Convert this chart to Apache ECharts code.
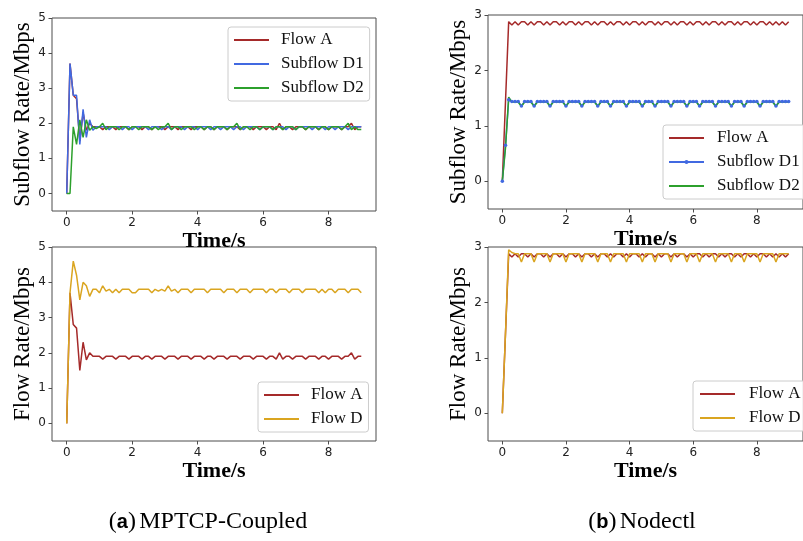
<!DOCTYPE html>
<html>
<head>
<meta charset="utf-8">
<script src="https://cdn.jsdelivr.net/npm/echarts@6/dist/echarts.min.js"></script>
<style>
html,body{margin:0;padding:0;background:#fff;}
#c{width:803px;height:541px;}
</style>
</head>
<body>
<div id="c"></div>
<script>
var times = [0,0.1,0.2,0.3,0.4,0.5,0.6,0.7,0.8,0.9,
1,1.1,1.2,1.3,1.4,1.5,1.6,1.7,1.8,1.9,
2,2.1,2.2,2.3,2.4,2.5,2.6,2.7,2.8,2.9,
3,3.1,3.2,3.3,3.4,3.5,3.6,3.7,3.8,3.9,
4,4.1,4.2,4.3,4.4,4.5,4.6,4.7,4.8,4.9,
5,5.1,5.2,5.3,5.4,5.5,5.6,5.7,5.8,5.9,
6,6.1,6.2,6.3,6.4,6.5,6.6,6.7,6.8,6.9,
7,7.1,7.2,7.3,7.4,7.5,7.6,7.7,7.8,7.9,
8,8.1,8.2,8.3,8.4,8.5,8.6,8.7,8.8,8.9,
9];

// (a) MPTCP-Coupled
var flowA_coupled = [0,3.7,2.8,2.7,1.5,2.3,1.8,2.0,1.9,1.9,
1.9,1.82,1.9,1.9,1.9,1.82,1.9,1.9,1.9,1.82,
1.9,1.9,1.9,1.82,1.9,1.9,1.82,1.9,1.9,1.9,
1.82,1.9,1.9,1.9,1.82,1.9,1.9,1.9,1.82,1.9,
1.9,1.9,1.82,1.9,1.9,1.82,1.9,1.9,1.9,1.82,
1.9,1.9,1.9,1.82,1.9,1.9,1.9,1.82,1.9,1.9,
1.9,1.82,1.9,1.9,1.82,2.0,1.82,1.9,1.9,1.82,
1.9,1.9,1.9,1.82,1.9,1.9,1.9,1.82,1.9,1.9,
1.82,1.9,1.9,1.9,1.82,1.9,1.9,2.0,1.82,1.9,
1.9];
var subflowD1_coupled = [0,3.7,2.8,2.8,1.4,2.4,1.6,2.1,1.8,1.9,
1.9,1.9,1.9,1.82,1.9,1.9,1.9,1.82,1.9,1.9,
1.82,1.9,1.9,1.9,1.9,1.82,1.9,1.9,1.9,1.82,
1.9,1.9,1.82,1.9,1.9,1.9,1.82,1.9,1.9,1.9,
1.82,1.9,1.9,1.9,1.82,1.9,1.9,1.82,1.9,1.9,
1.9,1.82,1.9,1.9,1.82,1.9,1.9,1.9,1.9,1.82,
1.9,1.9,1.9,1.82,1.9,1.9,1.9,1.82,1.9,1.9,
1.82,1.9,1.9,1.9,1.9,1.82,1.9,1.9,1.9,1.82,
1.9,1.9,1.82,1.9,1.9,1.9,1.82,1.9,1.9,1.9,
1.9];
var subflowD2_coupled = [0,0,1.9,1.4,2.1,1.6,2.1,1.8,1.9,1.85,
1.9,2.0,1.82,1.9,1.9,1.9,1.82,1.9,1.9,1.82,
1.9,1.9,1.82,1.9,1.9,1.9,1.82,1.9,1.82,1.9,
1.9,2.0,1.82,1.9,1.9,1.82,1.9,1.9,1.9,1.82,
1.9,1.9,1.82,1.9,1.9,1.82,1.9,1.9,1.9,1.82,
1.9,1.9,2.0,1.82,1.9,1.9,1.82,1.9,1.9,1.82,
1.9,1.9,1.9,1.82,1.9,1.9,1.82,1.9,1.9,1.9,
1.82,1.9,1.9,1.82,1.9,1.9,1.9,1.82,1.9,1.9,
1.82,1.9,1.9,1.9,1.82,1.9,2.0,1.82,1.9,1.82,
1.82];
var flowD_coupled = [0,3.7,4.6,4.2,3.5,4.0,3.9,3.6,3.8,3.8,
3.7,3.9,3.75,3.8,3.7,3.8,3.7,3.8,3.8,3.8,
3.7,3.7,3.8,3.8,3.8,3.8,3.7,3.8,3.75,3.8,
3.75,3.9,3.75,3.8,3.7,3.8,3.8,3.8,3.7,3.8,
3.8,3.8,3.8,3.7,3.8,3.8,3.8,3.8,3.7,3.8,
3.8,3.8,3.7,3.8,3.8,3.8,3.7,3.8,3.8,3.8,
3.8,3.7,3.8,3.8,3.7,3.8,3.8,3.8,3.7,3.8,
3.8,3.8,3.7,3.8,3.8,3.8,3.8,3.7,3.8,3.7,
3.8,3.8,3.7,3.8,3.8,3.8,3.7,3.8,3.8,3.8,
3.7];

// (b) Nodectl
var flowA_nodectl = [0,1.44,
2.88,2.82,2.88,2.82,2.88, 2.88,2.82,2.88,2.82,2.88,
2.88,2.82,2.88,2.82,2.88, 2.88,2.82,2.88,2.82,2.88,
2.88,2.82,2.88,2.82,2.88, 2.88,2.82,2.88,2.82,2.88,
2.88,2.82,2.88,2.82,2.88, 2.88,2.82,2.88,2.82,2.88,
2.88,2.82,2.88,2.82,2.88, 2.88,2.82,2.88,2.82,2.88,
2.88,2.82,2.88,2.82,2.88, 2.88,2.82,2.88,2.82,2.88,
2.88,2.82,2.88,2.82,2.88, 2.88,2.82,2.88,2.82,2.88,
2.88,2.82,2.88,2.82,2.88, 2.88,2.82,2.88,2.82,2.88,
2.88,2.82,2.88,2.82,2.88,
2.82,2.88,2.82,2.88];
var subflowD1_nodectl = [0,0.65,1.47,1.44,1.44,1.44,1.36,1.44,1.44,1.44,
1.36,1.44,1.44,1.44,1.44,1.36,1.44,1.44,1.44,1.44,
1.36,1.44,1.44,1.44,1.44,1.36,1.44,1.44,1.44,1.44,
1.36,1.44,1.44,1.44,1.36,1.44,1.44,1.44,1.44,1.36,
1.44,1.44,1.44,1.44,1.36,1.44,1.44,1.44,1.36,1.44,
1.44,1.44,1.44,1.36,1.44,1.44,1.44,1.44,1.36,1.44,
1.44,1.44,1.36,1.44,1.44,1.44,1.44,1.36,1.44,1.44,
1.44,1.44,1.36,1.44,1.44,1.44,1.36,1.44,1.44,1.44,
1.44,1.36,1.44,1.44,1.44,1.44,1.36,1.44,1.44,1.44,
1.44];
var subflowD2_nodectl = [0,0.6,1.52,1.43,1.43,1.43,1.35,1.43,1.43,1.43,
1.35,1.43,1.43,1.43,1.43,1.35,1.43,1.43,1.43,1.43,
1.35,1.43,1.43,1.43,1.43,1.35,1.43,1.43,1.43,1.43,
1.35,1.43,1.43,1.43,1.35,1.43,1.43,1.43,1.43,1.35,
1.43,1.43,1.43,1.43,1.35,1.43,1.43,1.43,1.35,1.43,
1.43,1.43,1.43,1.35,1.43,1.43,1.43,1.43,1.35,1.43,
1.43,1.43,1.35,1.43,1.43,1.43,1.43,1.35,1.43,1.43,
1.43,1.43,1.35,1.43,1.43,1.43,1.35,1.43,1.43,1.43,
1.43,1.35,1.43,1.43,1.43,1.43,1.35,1.43,1.43,1.43,
1.43];
var flowD_nodectl = [0,1.45,2.95,2.9,2.88,2.88,2.73,2.88,2.88,2.88,
2.73,2.88,2.88,2.88,2.88,2.73,2.88,2.88,2.88,2.88,
2.73,2.88,2.88,2.88,2.88,2.73,2.88,2.88,2.88,2.88,
2.73,2.88,2.88,2.88,2.73,2.88,2.88,2.88,2.88,2.73,
2.88,2.88,2.88,2.88,2.73,2.88,2.88,2.88,2.73,2.88,
2.88,2.88,2.88,2.73,2.88,2.88,2.88,2.88,2.73,2.88,
2.88,2.88,2.73,2.88,2.88,2.88,2.88,2.73,2.88,2.88,
2.88,2.88,2.73,2.88,2.88,2.88,2.73,2.88,2.88,2.88,
2.88,2.73,2.88,2.88,2.88,2.88,2.73,2.88,2.88,2.88,
2.88];

var xTicks = [0, 2, 4, 6, 8];
var yTicksCoupled = [0, 1, 2, 3, 4, 5];
var yTicksNodectl = [0, 1, 2, 3];

var C_RED = '#a52a2a', C_BLUE = '#4169e1', C_GREEN = '#2ca02c', C_GOLD = '#daa520';
var FRAME = '#4d4d4d';

function pairs(arr) { return times.map(function (t, i) { return [t, arr[i]]; }); }

var labelOf = {
  'tlA': 'Flow A', 'tlD1': 'Subflow D1', 'tlD2': 'Subflow D2',
  'blA': 'Flow A', 'blD': 'Flow D',
  'trA': 'Flow A', 'trD1': 'Subflow D1', 'trD2': 'Subflow D2',
  'brA': 'Flow A', 'brD': 'Flow D'
};

function xAxisCfg(gi) {
  return {
    type: 'value', gridIndex: gi, min: -0.45, max: 9.45, position: 'bottom',
    axisLine: { show: false, onZero: false }, splitLine: { show: false },
    axisTick: { show: true, customValues: xTicks, length: 3.5, lineStyle: { color: FRAME, width: 1 } },
    axisLabel: { customValues: xTicks, fontFamily: 'DejaVu Sans', fontSize: 12, color: '#222', margin: 6 },
    name: 'Time/s', nameLocation: 'middle', nameGap: 16,
    nameTextStyle: { fontFamily: 'Liberation Serif', fontSize: 22, fontWeight: 'bold', color: '#000' }
  };
}
function yAxisCfg(gi, max, ticks, name) {
  return {
    type: 'value', gridIndex: gi, min: -0.5, max: max, position: 'left',
    axisLine: { show: false, onZero: false }, splitLine: { show: false },
    axisTick: { show: true, customValues: ticks, length: 3.5, lineStyle: { color: FRAME, width: 1 } },
    axisLabel: { customValues: ticks, fontFamily: 'DejaVu Sans', fontSize: 12, color: '#222', margin: 6 },
    name: name, nameLocation: 'middle', nameGap: 17,
    nameTextStyle: { fontFamily: 'Liberation Serif', fontSize: 23, color: '#000' }
  };
}
function lineSeries(name, gi, arr, color, withSymbol) {
  return {
    name: name, type: 'line', xAxisIndex: gi, yAxisIndex: gi,
    data: pairs(arr),
    symbol: withSymbol ? 'circle' : 'none', symbolSize: 3.5, showSymbol: !!withSymbol,
    itemStyle: { color: color },
    lineStyle: { color: color, width: 1.5 },
    emphasis: { disabled: true }
  };
}
function legendItem(name, withSymbol) {
  return withSymbol ? { name: name } : { name: name, itemStyle: { opacity: 0 } };
}
function legendCfg(left, top, items, padLeft, textPad) {
  return {
    orient: 'vertical', left: left, top: top, data: items,
    itemWidth: 35, itemHeight: 5, itemGap: 4,
    padding: [3, 6, 3, padLeft],
    backgroundColor: 'rgba(255,255,255,0.85)', borderColor: '#cccccc', borderWidth: 1, borderRadius: 3,
    formatter: function (n) { return labelOf[n]; },
    textStyle: { fontFamily: 'Liberation Serif', fontSize: 17, color: '#111', lineHeight: 20, padding: [0, 0, 0, textPad] },
    selectedMode: false
  };
}

var option = {
  animation: false,
  backgroundColor: '#fff',
  grid: [
    { left: 52, top: 18, width: 324, height: 193, show: true, borderColor: FRAME, borderWidth: 1, backgroundColor: 'transparent' },
    { left: 52, top: 247, width: 324, height: 194, show: true, borderColor: FRAME, borderWidth: 1, backgroundColor: 'transparent' },
    { left: 488, top: 15, width: 323, height: 194, show: true, borderColor: FRAME, borderWidth: 1, backgroundColor: 'transparent' },
    { left: 488, top: 247, width: 323, height: 194, show: true, borderColor: FRAME, borderWidth: 1, backgroundColor: 'transparent' }
  ],
  xAxis: [xAxisCfg(0), xAxisCfg(1), xAxisCfg(2), xAxisCfg(3)],
  yAxis: [
    yAxisCfg(0, 5, yTicksCoupled, 'Subflow Rate/Mbps'),
    yAxisCfg(1, 5, yTicksCoupled, 'Flow Rate/Mbps'),
    yAxisCfg(2, 3, yTicksNodectl, 'Subflow Rate/Mbps'),
    yAxisCfg(3, 3, yTicksNodectl, 'Flow Rate/Mbps')
  ],
  legend: [
    legendCfg(228, 27, [legendItem('tlA'), legendItem('tlD1'), legendItem('tlD2')], 5, 7),
    legendCfg(258, 382, [legendItem('blA'), legendItem('blD')], 5, 7),
    legendCfg(663, 125, [legendItem('trA'), legendItem('trD1', true), legendItem('trD2')], 5, 8),
    legendCfg(693, 381, [legendItem('brA'), legendItem('brD')], 6, 9)
  ],
  series: [
    lineSeries('tlA', 0, flowA_coupled, C_RED),
    lineSeries('tlD1', 0, subflowD1_coupled, C_BLUE),
    lineSeries('tlD2', 0, subflowD2_coupled, C_GREEN),
    lineSeries('blA', 1, flowA_coupled, C_RED),
    lineSeries('blD', 1, flowD_coupled, C_GOLD),
    lineSeries('trA', 2, flowA_nodectl, C_RED),
    lineSeries('trD1', 2, subflowD1_nodectl, C_BLUE, true),
    lineSeries('trD2', 2, subflowD2_nodectl, C_GREEN),
    lineSeries('brA', 3, flowA_nodectl, C_RED),
    lineSeries('brD', 3, flowD_nodectl, C_GOLD)
  ],
  graphic: [
    { type: 'text', x: 208, y: 522, style: {
        text: '{p|(}{b|a}{p|)} {t|MPTCP-Coupled}', align: 'center', verticalAlign: 'middle',
        rich: {
          p: { fontFamily: 'Liberation Serif', fontSize: 24, fill: '#000' },
          b: { fontFamily: 'Liberation Sans', fontWeight: 'bold', fontSize: 20, fill: '#000' },
          t: { fontFamily: 'Liberation Serif', fontSize: 24, fill: '#000' }
        } } },
    { type: 'text', x: 642, y: 522, style: {
        text: '{p|(}{b|b}{p|)} {t|Nodectl}', align: 'center', verticalAlign: 'middle',
        rich: {
          p: { fontFamily: 'Liberation Serif', fontSize: 24, fill: '#000' },
          b: { fontFamily: 'Liberation Sans', fontWeight: 'bold', fontSize: 20, fill: '#000' },
          t: { fontFamily: 'Liberation Serif', fontSize: 24, fill: '#000' }
        } } }
  ]
};

var chart = echarts.init(document.getElementById('c'), null, { renderer: 'canvas' });
chart.setOption(option);
</script>
</body>
</html>
